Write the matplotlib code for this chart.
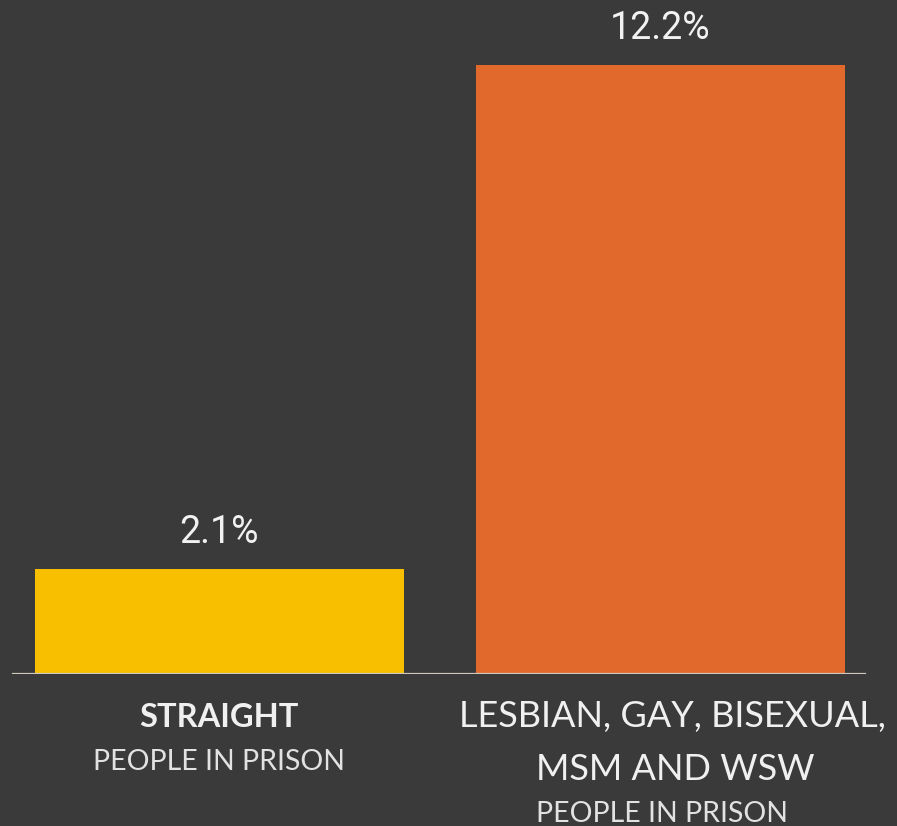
import matplotlib
matplotlib.use("Agg")
import matplotlib.pyplot as plt

categories = ["STRAIGHT", "LESBIAN, GAY, BISEXUAL,\nMSM AND WSW"]
values = [2.1, 12.2]
value_labels = ["2.1%", "12.2%"]
sublabel = "PEOPLE IN PRISON"
colors = ["#F7BF00", "#E0692B"]

BG = "#3A3A3A"
W, H = 897, 826
fig = plt.figure(figsize=(W / 100, H / 100), dpi=100, facecolor=BG)
base_px = 152
ax = fig.add_axes([0, base_px / H, 1, 1 - base_px / H])
ax.set_facecolor(BG)

x = [0, 1]
unit = 441.0
ax.bar(x, values, width=369 / unit, color=colors, zorder=2)
ax.set_xlim(-219 / unit, (W - 219) / unit)
ax.set_ylim(0, 13.5)
ax.axhline(0, xmin=13 / W, xmax=865 / W, color="#CFC9BD", lw=1.6, zorder=3)
for s in ax.spines.values():
    s.set_visible(False)
ax.set_xticks([])
ax.set_yticks([])

for xi, v, lab in zip(x, values, value_labels):
    ax.annotate(lab, xy=(xi, v), xytext=(0, 18), textcoords="offset pixels",
                ha="center", va="bottom", fontsize=27, color="#F2F2F2",
                family="Roboto", fontweight="normal")

# category labels
ax.annotate("STRAIGHT", xy=(0, 0), xycoords=("data", "axes fraction"),
            xytext=(0, -53), textcoords="offset pixels", ha="center", va="baseline",
            fontsize=23.5, color="#F0F0F0", family="Lato", fontweight="bold")
ax.annotate(sublabel, xy=(0, 0), xycoords=("data", "axes fraction"),
            xytext=(0, -96), textcoords="offset pixels", ha="center", va="baseline",
            fontsize=20.5, color="#E2E2E2", family="Lato", fontweight="normal")

lines = categories[1].split("\n")
ax.annotate(lines[0], xy=(1, 0), xycoords=("data", "axes fraction"),
            xytext=(12, -53), textcoords="offset pixels", ha="center", va="baseline",
            fontsize=26, color="#F0F0F0", family="Lato", fontweight="normal")
ax.annotate(lines[1], xy=(1, 0), xycoords=("data", "axes fraction"),
            xytext=(15, -106), textcoords="offset pixels", ha="center", va="baseline",
            fontsize=26, color="#F0F0F0", family="Lato", fontweight="normal")
ax.annotate(sublabel, xy=(1, 0), xycoords=("data", "axes fraction"),
            xytext=(2, -148), textcoords="offset pixels", ha="center", va="baseline",
            fontsize=20.5, color="#E2E2E2", family="Lato", fontweight="normal")

fig.savefig("out.png", dpi=100, facecolor=BG)
